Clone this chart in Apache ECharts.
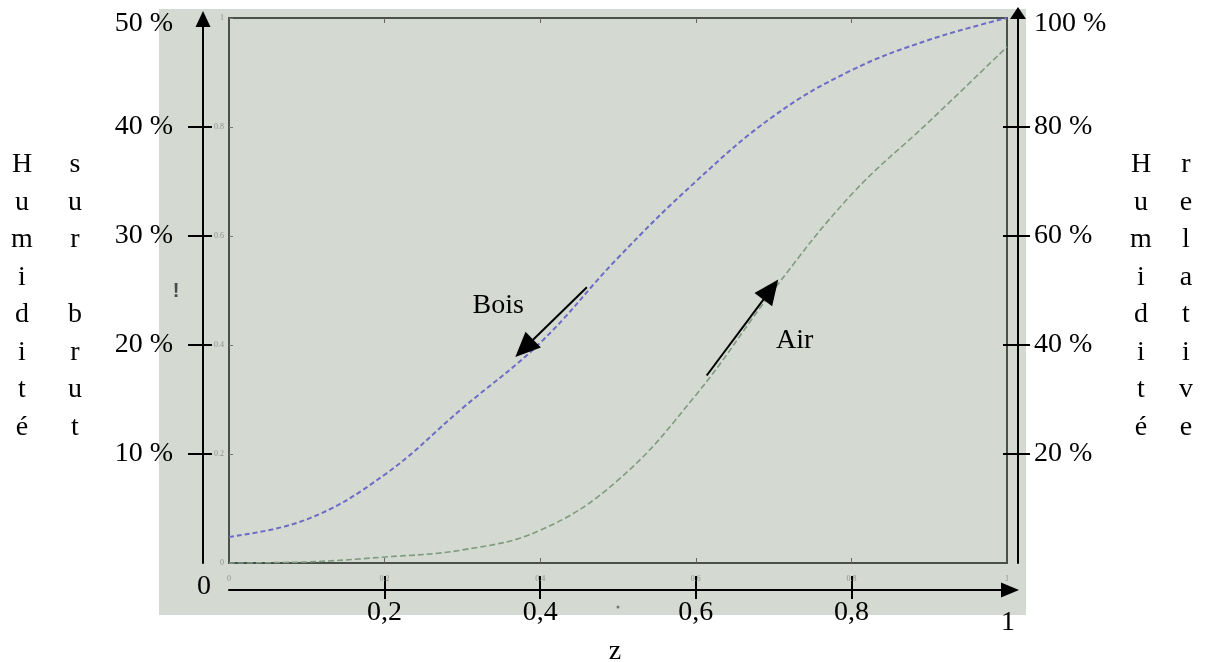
<!DOCTYPE html>
<html><head><meta charset="utf-8">
<script src="https://cdn.jsdelivr.net/npm/echarts@6/dist/echarts.min.js"></script>
<style>html,body{margin:0;padding:0;background:#fff}#c{width:1209px;height:662px}</style>
</head><body><div id="c"></div>
<script>
// ---- data ----
const zValues = [0, 0.1, 0.2, 0.3, 0.4, 0.5, 0.6, 0.7, 0.8, 0.9, 1];
const boisValues = [2.4, 4.0, 8.1, 14.2, 20.2, 28.0, 35.0, 41.0, 45.2, 48.0, 50];   // Humidité sur brut (%)
const airValues = [0, 0.2, 1.1, 2.4, 6.0, 15.2, 30.8, 50.1, 67.6, 81.0, 94.7];     // Humidité relative (%)
const xTickValues = [0.2, 0.4, 0.6, 0.8];
const xTickLabels = ['0,2', '0,4', '0,6', '0,8'];
const xEndLabels = ['0', '1'];
const leftTickValues = [10, 20, 30, 40, 50];
const rightTickValues = [20, 40, 60, 80, 100];
const smallTickValues = [0, 0.2, 0.4, 0.6, 0.8, 1];
const leftTitle = ['Humidité', 'sur brut'];
const rightTitle = ['Humidité', 'relative'];
const xTitle = 'z';
const seriesNames = ['Bois', 'Air'];

const FONT = "'Liberation Serif','Times New Roman',serif";
const chart = echarts.init(document.getElementById('c'));

const pairs = (xs, ys) => xs.map((x, i) => [x, ys[i]]);
const commaFmt = v => xTickLabels[xTickValues.indexOf(v)] || String(v).replace('.', ',');
const noLine = { show: false, onZero: false };
const pctLabel = max => v => (v === max ? '{t|' + v + ' %}' : v + ' %');
const rich = { t: { fontSize: 28, fontFamily: FONT, color: '#000', padding: [12, 0, 0, 0] } };

chart.setOption({
  animation: false,
  backgroundColor: '#ffffff',
  grid: { left: 229, right: 202, top: 18, bottom: 99, show: true, borderColor: '#4a504a', borderWidth: 2, backgroundColor: 'transparent' },
  xAxis: [
    { type: 'value', min: 0, max: 1, interval: 0.2, position: 'bottom', offset: 27,
      axisLine: { show: true, onZero: false, symbol: ['none', 'triangle'], symbolSize: [15, 18], symbolOffset: [0, 3], lineStyle: { color: '#000', width: 2 } },
      axisTick: { show: true, inside: true, length: 14, customValues: xTickValues, lineStyle: { color: '#000', width: 2 } },
      axisLabel: { show: false }, splitLine: { show: false } },
    { type: 'value', min: 0, max: 1, interval: 0.2, position: 'bottom', offset: 27,
      axisLine: noLine,
      axisTick: { show: true, inside: false, length: 9, customValues: xTickValues, lineStyle: { color: '#000', width: 2 } },
      axisLabel: { show: true, customValues: xTickValues, formatter: commaFmt, margin: 9, color: '#000', fontSize: 28, fontFamily: FONT },
      splitLine: { show: false } },
    { type: 'value', min: 0, max: 1, interval: 0.2, position: 'bottom', offset: 0,
      axisLine: noLine,
      axisTick: { show: true, inside: true, length: 5, customValues: xTickValues, lineStyle: { color: '#666', width: 1 } },
      axisLabel: { show: true, customValues: smallTickValues, margin: 12, color: '#8f938d', fontSize: 8, fontFamily: FONT },
      splitLine: { show: false } },
    { type: 'value', min: 0, max: 1, interval: 0.2, position: 'top', offset: 0,
      axisLine: noLine,
      axisTick: { show: true, inside: true, length: 5, customValues: xTickValues, lineStyle: { color: '#666', width: 1 } },
      axisLabel: { show: false }, splitLine: { show: false } }
  ],
  yAxis: [
    { type: 'value', min: 0, max: 50, interval: 10, position: 'left', offset: 26,
      axisLine: { show: true, onZero: false, symbol: ['none', 'triangle'], symbolSize: [15, 16], symbolOffset: [0, -1], lineStyle: { color: '#000', width: 2 } },
      axisTick: { show: true, inside: false, length: 15, customValues: [10, 20, 30, 40], lineStyle: { color: '#000', width: 2 } },
      axisLabel: { show: true, customValues: leftTickValues, formatter: pctLabel(50), rich: rich, margin: 30, color: '#000', fontSize: 28, fontFamily: FONT },
      splitLine: { show: false } },
    { type: 'value', min: 0, max: 50, interval: 10, position: 'left', offset: 26,
      axisLine: noLine,
      axisTick: { show: true, inside: true, length: 9, customValues: [10, 20, 30, 40], lineStyle: { color: '#000', width: 2 } },
      axisLabel: { show: false }, splitLine: { show: false } },
    { type: 'value', min: 0, max: 100, interval: 20, position: 'right', offset: 11,
      axisLine: { show: true, onZero: false, symbol: ['none', 'triangle'], symbolSize: [16, 12], symbolOffset: [0, 5], lineStyle: { color: '#000', width: 2 } },
      axisTick: { show: true, inside: false, length: 12, customValues: [20, 40, 60, 80], lineStyle: { color: '#000', width: 2 } },
      axisLabel: { show: true, customValues: rightTickValues, formatter: pctLabel(100), rich: rich, margin: 16, color: '#000', fontSize: 28, fontFamily: FONT },
      splitLine: { show: false } },
    { type: 'value', min: 0, max: 100, interval: 20, position: 'right', offset: 11,
      axisLine: noLine,
      axisTick: { show: true, inside: true, length: 15, customValues: [20, 40, 60, 80], lineStyle: { color: '#000', width: 2 } },
      axisLabel: { show: false }, splitLine: { show: false } },
    { type: 'value', min: 0, max: 1, interval: 0.2, position: 'left', offset: 0,
      axisLine: noLine,
      axisTick: { show: true, inside: true, length: 4, lineStyle: { color: '#777', width: 1 } },
      axisLabel: { show: true, margin: 5, color: '#8f938d', fontSize: 8, fontFamily: FONT },
      splitLine: { show: false } }
  ],
  series: [
    { name: seriesNames[0], type: 'line', xAxisIndex: 0, yAxisIndex: 0, smooth: 0.4, showSymbol: false,
      data: pairs(zValues, boisValues), lineStyle: { color: '#6c6cc6', width: 2, type: [5, 3] }, z: 3 },
    { name: seriesNames[1], type: 'line', xAxisIndex: 0, yAxisIndex: 2, smooth: 0.4, showSymbol: false,
      data: pairs(zValues, airValues), lineStyle: { color: '#7f9c7f', width: 1.6, type: [6, 3] }, z: 3 }
  ]
});

// ---- annotations (positions in data coordinates of the left axis) ----
const annotations = [
  { text: seriesNames[0], label: [0.346, 23.6], from: [0.460, 25.3], to: [0.368, 18.9] },
  { text: seriesNames[1], label: [0.727, 20.4], from: [0.614, 17.2], to: [0.706, 26.0] }
];
const px = p => chart.convertToPixel({ xAxisIndex: 0, yAxisIndex: 0 }, p);
const g = [];
// grey background panel
g.push({ type: 'rect', z: -100, silent: true, shape: { x: 159, y: 9, width: 867, height: 606 }, style: { fill: '#d4d9d1' } });
annotations.forEach(a => {
  const s = px(a.from), t = px(a.to), l = px(a.label);
  const dx = t[0] - s[0], dy = t[1] - s[1], len = Math.hypot(dx, dy);
  const ux = dx / len, uy = dy / len, hl = 25, hw = 11;
  const bx = t[0] - ux * hl, by = t[1] - uy * hl;
  g.push({ type: 'line', z: 10, shape: { x1: s[0], y1: s[1], x2: bx + ux * 2, y2: by + uy * 2 }, style: { stroke: '#000', lineWidth: 2 } });
  g.push({ type: 'polygon', z: 10, shape: { points: [[t[0], t[1]], [bx - uy * hw, by + ux * hw], [bx + uy * hw, by - ux * hw]] }, style: { fill: '#000' } });
  g.push({ type: 'text', z: 10, x: l[0], y: l[1], style: { text: a.text, font: '28px ' + FONT, fill: '#000', align: 'center', verticalAlign: 'middle' } });
});
// end labels of the z axis
const o = px([0, 0]), e = px([1, 0]);
g.push({ type: 'text', z: 10, x: o[0] - 25, y: o[1] + 24, style: { text: xEndLabels[0], font: '28px ' + FONT, fill: '#000', align: 'center', verticalAlign: 'middle' } });
g.push({ type: 'text', z: 10, x: e[0] + 1, y: e[1] + 60, style: { text: xEndLabels[1], font: '28px ' + FONT, fill: '#000', align: 'center', verticalAlign: 'middle' } });
g.push({ type: 'text', z: 10, x: (o[0] + e[0]) / 2 - 3, y: o[1] + 89, style: { text: xTitle, font: '28px ' + FONT, fill: '#000', align: 'center', verticalAlign: 'middle' } });
// vertical axis titles
const vert = (str, x) => g.push({ type: 'text', z: 10, x: x, y: 146, style: { text: str.split('').join('\n'), font: '28px ' + FONT, lineHeight: 37.5, fill: '#000', align: 'center', verticalAlign: 'top' } });
vert(leftTitle[0], 22); vert(leftTitle[1], 75);
vert(rightTitle[0], 1141); vert(rightTitle[1], 1186);
// stray marks of the scanned original
g.push({ type: 'text', z: 10, x: 176, y: 291, style: { text: '!', font: 'bold 20px sans-serif', fill: '#4a4a4a', align: 'center', verticalAlign: 'middle' } });
g.push({ type: 'circle', z: 10, shape: { cx: 618, cy: 607, r: 1.5 }, style: { fill: '#777' } });
chart.setOption({ graphic: g });
</script></body></html>
